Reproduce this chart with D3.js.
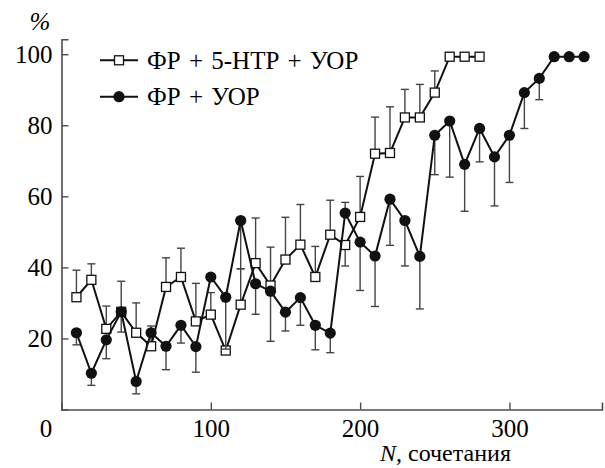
<!DOCTYPE html>
<html>
<head>
<meta charset="utf-8">
<script src="https://cdn.jsdelivr.net/npm/d3@7"></script>
<style>
  html, body { margin: 0; padding: 0; background: #fff; }
  svg { display: block; }
</style>
</head>
<body>
<svg id="chart" width="605" height="468"></svg>
<script>
// ---- data ----
const nSquare = [10,20,30,40,50,60,70,80,90,100,110,120,130,140,150,160,170,180,190,200,210,220,230,240,250,260,270,280];
const valSquare = [31.6,36.5,22.7,27.5,21.6,17.8,34.5,37.3,24.8,26.7,16.6,29.5,41.2,34.9,42.2,46.4,37.3,49.2,46.3,54.2,72.0,72.2,82.2,82.2,89.2,99.3,99.3,99.3];
const errSquare = [39.2,41.0,29.1,36.1,30.0,23.5,42.7,45.4,35.5,32.9,null,39.6,53.9,45.7,54.1,57.7,45.9,58.9,40.4,65.6,82.3,85.2,90.1,91.5,95.3,null,null,null];

const nCircle = [10,20,30,40,50,60,70,80,90,100,110,120,130,140,150,160,170,180,190,200,210,220,230,240,250,260,270,280,290,300,310,320,330,340,350];
const valCircle = [21.6,10.2,19.6,27.5,7.9,21.6,17.8,23.7,17.7,37.3,31.6,53.2,35.4,33.3,27.4,31.5,23.7,21.5,55.3,47.1,43.2,59.2,53.2,43.1,77.2,81.2,69.0,79.1,71.1,77.2,89.2,93.2,99.3,99.3,99.3];
const errCircle = [18.2,6.8,14.3,21.8,4.4,null,11.2,18.7,10.5,null,17.0,39.6,26.8,19.2,22.1,23.7,16.8,16.0,58.3,33.5,29.0,46.2,40.4,28.3,66.1,65.4,55.8,69.7,57.3,63.9,79.1,87.2,null,null,null];

const xTicks = [0,100,200,300];
const yTicks = [20,40,60,80,100];
const legendLabels = ["ФР + 5-НТР + УОР", "ФР + УОР"];
const xLabelItalic = "N";
const xLabelRest = ", сочетания";
const yLabel = "%";

// ---- scales ----
const svg = d3.select("#chart");
const x = d3.scaleLinear().domain([0, 362]).range([61.5, 602]);
const y = d3.scaleLinear().domain([0, 104.2]).range([409.5, 39.3]);

const FONT = "Liberation Serif, DejaVu Serif, Times New Roman, serif";
const FS = 25;
const axisColor = "#4d4d4d";

function styleText(sel, fs = FS) {
  return sel.attr("font-family", FONT).style("font-family", FONT)
    .attr("font-size", fs).style("font-size", fs + "px").attr("fill", "#000");
}

// ---- axes ----
const gx = svg.append("g").attr("transform", `translate(0,${y(0)})`)
  .call(d3.axisBottom(x).tickValues(xTicks).tickSize(-7).tickPadding(10).tickFormat(d3.format("d")));
const gy = svg.append("g").attr("transform", `translate(${x(0)},0)`)
  .call(d3.axisLeft(y).tickValues(yTicks).tickSize(-7).tickPadding(9).tickFormat(d3.format("d")));

[gx, gy].forEach(g => {
  g.attr("font-family", FONT).attr("font-size", FS);
  g.select(".domain").attr("stroke", axisColor).attr("stroke-width", 1.6);
  g.selectAll(".tick line").attr("stroke", axisColor).attr("stroke-width", 1.4);
  styleText(g.selectAll(".tick text"));
});
gx.selectAll(".tick").filter(d => d === 0).select("line").remove();
gx.selectAll(".tick").filter(d => d === 0).select("text").attr("dx", -16);
gy.selectAll(".tick text").attr("dy", "0.34em");

// ---- labels ----
styleText(svg.append("text").attr("x", 40).attr("y", 30).attr("text-anchor", "middle"))
  .style("font-style", "italic").text(yLabel);
const xl = styleText(svg.append("text").attr("x", 380).attr("y", 461), 24);
xl.append("tspan").style("font-style", "italic").text(xLabelItalic);
xl.append("tspan").text(xLabelRest);

// ---- series ----
function drawSeries(ns, vals, errs, kind) {
  const g = svg.append("g");
  const pts = ns.map((n, i) => ({n, v: vals[i], e: errs[i]}));
  const eb = g.append("g").attr("stroke", "#444").attr("stroke-width", 1.4);
  pts.filter(p => p.e !== null).forEach(p => {
    eb.append("line").attr("x1", x(p.n)).attr("x2", x(p.n)).attr("y1", y(p.v)).attr("y2", y(p.e));
    eb.append("line").attr("x1", x(p.n) - 4).attr("x2", x(p.n) + 4).attr("y1", y(p.e)).attr("y2", y(p.e));
  });
  g.append("path").datum(pts)
    .attr("fill", "none").attr("stroke", "#111").attr("stroke-width", 2)
    .attr("d", d3.line().x(p => x(p.n)).y(p => y(p.v)));
  if (kind === "square") {
    g.selectAll("rect").data(pts).join("rect")
      .attr("x", p => x(p.n) - 4.5).attr("y", p => y(p.v) - 4.5)
      .attr("width", 9).attr("height", 9)
      .attr("fill", "#fff").attr("stroke", "#111").attr("stroke-width", 1.3);
  } else {
    g.selectAll("circle").data(pts).join("circle")
      .attr("cx", p => x(p.n)).attr("cy", p => y(p.v)).attr("r", 5.6)
      .attr("fill", "#111");
  }
}
drawSeries(nSquare, valSquare, errSquare, "square");
drawSeries(nCircle, valCircle, errCircle, "circle");

// ---- legend ----
const leg = svg.append("g");
legendLabels.forEach((lab, i) => {
  const ly = i === 0 ? 60.3 : 96.7;
  leg.append("line").attr("x1", 100).attr("x2", 138).attr("y1", ly).attr("y2", ly)
    .attr("stroke", "#111").attr("stroke-width", 2);
  if (i === 0) {
    leg.append("rect").attr("x", 119 - 4.5).attr("y", ly - 4.5).attr("width", 9).attr("height", 9)
      .attr("fill", "#fff").attr("stroke", "#111").attr("stroke-width", 1.3);
  } else {
    leg.append("circle").attr("cx", 119).attr("cy", ly).attr("r", 5.6).attr("fill", "#111");
  }
  styleText(leg.append("text").attr("x", 147).attr("y", ly).attr("dy", "0.34em")
    .style("word-spacing", "2px")).text(lab);
});
</script>
</body>
</html>
